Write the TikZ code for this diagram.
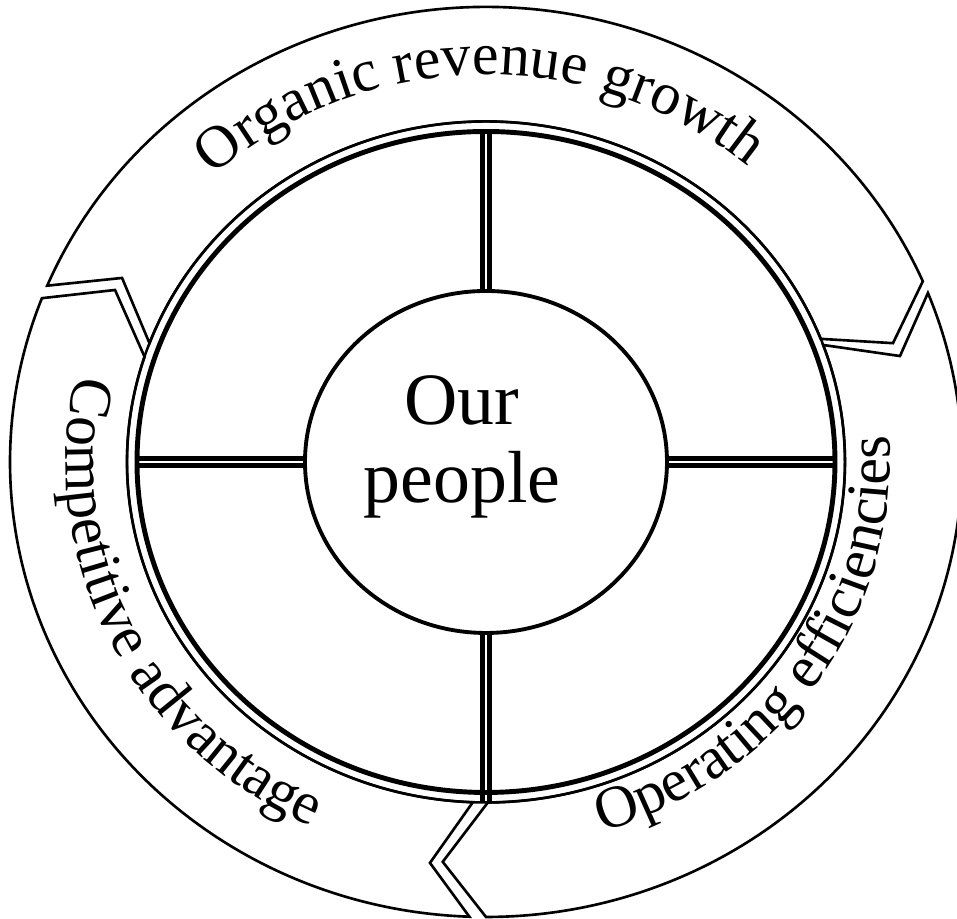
\documentclass[tikz,border=0pt]{standalone}
\usepackage{fontspec}
\setmainfont{Liberation Serif}
\usetikzlibrary{shapes.geometric,decorations.text}

\newcommand\ringfont{\fontsize{17}{20}\selectfont}

\tikzset{
  rim/.style={line width=0.75pt, line join=miter},
  divider/.style={double, line width=1.2pt, double distance=0.8pt},
  ringtext/.style={decorate, decoration={text along path, text align=center, text={#1}}}
}

\begin{document}
\begin{tikzpicture}
  \useasboundingbox (-4.86,-4.57) rectangle (4.71,4.62);
  % centre and quadrant rings
  \node[draw, ellipse, line width=1.1pt, minimum width=3.62cm, minimum height=3.42cm, inner sep=0] (core) at (0,0) {};
  \node[font=\fontsize{21}{22.2}\selectfont, align=center, inner sep=0] (people) at (-0.24,0.155) {Our\\people};
  \coordinate (qn) at (90:3.47 and 3.285);
  \coordinate (qs) at (270:3.59 and 3.405);
  \coordinate (qw) at (180:3.47 and 3.285);
  \coordinate (qe) at (0:3.47 and 3.285);
  \draw[divider] (qn) -- (core.north);
  \draw[divider] (core.south) -- (qs);
  \draw[divider] (qw) -- (core.west);
  \draw[divider] (core.east) -- (qe);
  \draw[line width=1.4pt] (0,0) ellipse [x radius=3.49, y radius=3.305];
  \draw[line width=0.7pt] (0,0) ellipse [x radius=3.59, y radius=3.405];
  % outer arrows
  \draw[rim] (157.2:4.76 and 4.55) arc[start angle=157.2, end angle=23.4, x radius=4.76, y radius=4.55]
    -- (17.0:4.256 and 4.064) -- (21.2:3.59 and 3.405)
    arc[start angle=21.2, end angle=159.6, x radius=3.59, y radius=3.405]
    -- (152.1:4.118 and 3.933) -- cycle;
  \draw[rim] (21.8:4.76 and 4.55) arc[start angle=21.8, end angle=-90, x radius=4.76, y radius=4.55]
    -- (-95.9:4.21 and 4.02) -- (-89.7:3.59 and 3.405)
    arc[start angle=-89.7, end angle=20.1, x radius=3.59, y radius=3.405]
    -- (15.0:4.286 and 4.093) -- cycle;
  \draw[rim] (268:4.76 and 4.55) arc[start angle=268, end angle=158.9, x radius=4.76, y radius=4.55]
    -- (154.1:4.124 and 3.938) -- (162:3.59 and 3.405)
    arc[start angle=162, end angle=267.9, x radius=3.59, y radius=3.405]
    -- (262.4:4.236 and 4.045) -- cycle;
  % labels on the ring
  \path[ringtext={|\ringfont|Organic revenue growth}] (151:4.05 and 3.87) arc[start angle=151, end angle=31, x radius=4.05, y radius=3.87];
  \path[ringtext={|\ringfont|Competitive advantage}] (146.2:4.2 and 4.01) arc[start angle=146.2, end angle=266.2, x radius=4.2, y radius=4.01];
  \path[ringtext={|\ringfont|Operating efficiencies}] (-94.2:4.04 and 3.86) arc[start angle=-94.2, end angle=25.8, x radius=4.04, y radius=3.86];
\end{tikzpicture}
\end{document}
